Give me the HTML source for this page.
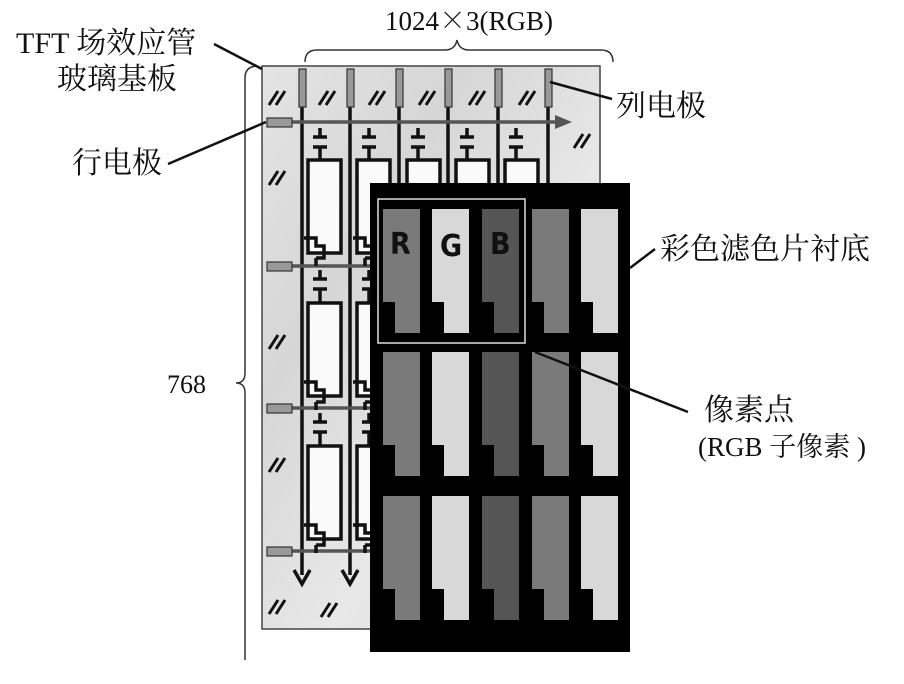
<!DOCTYPE html>
<html><head><meta charset="utf-8"><style>
body{margin:0;background:#fff;width:904px;height:679px;overflow:hidden}
text{font-family:"Liberation Serif","Noto Serif CJK SC","Noto Sans CJK SC",serif;fill:#111}
</style></head><body>
<svg width="904" height="679" viewBox="0 0 904 679" xmlns="http://www.w3.org/2000/svg">
<defs>
<linearGradient id="gl" x1="0" y1="0" x2="1" y2="1">
<stop offset="0" stop-color="#e4e4e4"/><stop offset="0.3" stop-color="#d6d6d6"/><stop offset="0.6" stop-color="#e8e8e8"/><stop offset="1" stop-color="#d2d2d2"/>
</linearGradient>
</defs>
<rect x="262" y="66" width="338" height="563" fill="url(#gl)" stroke="#444" stroke-width="1.5"/>
<g stroke="#111" stroke-width="3">
<path d="M269 105l9-14M276 105l9-14 M319 105l9-14M326 105l9-14 M369 105l9-14M376 105l9-14 M419 105l9-14M426 105l9-14 M469 105l9-14M476 105l9-14 M519 105l9-14M526 105l9-14 M574 148l9-14M581 148l9-14 M269 185l9-14M276 185l9-14 M269 349l9-14M276 349l9-14 M269 472l9-14M276 472l9-14 M269 614l9-14M276 614l9-14 M321 617l9-14M328 617l9-14"/>
</g>
<g stroke="#111" stroke-width="3.5">
<line x1="302" y1="107" x2="302" y2="575"/><line x1="350" y1="107" x2="350" y2="575"/>
<line x1="399" y1="107" x2="399" y2="183"/><line x1="448" y1="107" x2="448" y2="183"/>
<line x1="498" y1="107" x2="498" y2="183"/><line x1="548" y1="107" x2="548" y2="183"/>
</g>
<path d="M294 570l8 14 8-14M342 570l8 14 8-14" fill="none" stroke="#111" stroke-width="3.5"/>
<g fill="#999" stroke="#333" stroke-width="1.2">
<rect x="299" y="69" width="7" height="38"/><rect x="347" y="69" width="7" height="38"/><rect x="396" y="69" width="7" height="38"/><rect x="445" y="69" width="7" height="38"/><rect x="495" y="69" width="7" height="38"/><rect x="545" y="69" width="7" height="38"/>
</g>
<g stroke="#555" stroke-width="3.5">
<line x1="292" y1="122" x2="562" y2="122"/><line x1="292" y1="266" x2="372" y2="266"/><line x1="292" y1="408" x2="372" y2="408"/><line x1="292" y1="551" x2="372" y2="551"/>
</g>
<path d="M555 115l17 7-17 7z" fill="#555"/>
<g fill="#999" stroke="#333" stroke-width="1.2">
<rect x="267" y="118" width="25" height="9"/><rect x="267" y="262" width="25" height="9"/><rect x="267" y="404" width="25" height="9"/><rect x="267" y="547" width="25" height="9"/>
</g>
<g fill="#fafafa" stroke="#111" stroke-width="3.5">
<rect x="308" y="160" width="33" height="93"/><rect x="357" y="160" width="33" height="93"/>
<rect x="407" y="160" width="33" height="25"/><rect x="456" y="160" width="33" height="25"/><rect x="505" y="160" width="33" height="25"/>
<rect x="308" y="303" width="33" height="93"/><rect x="357" y="303" width="33" height="93"/>
<rect x="308" y="446" width="33" height="93"/><rect x="357" y="446" width="33" height="93"/>
</g>
<g stroke="#111" stroke-width="3.5" fill="none">
<path d="M320 128v9M313 137h14M313 147h14M320 147v13 M369 128v9M362 137h14M362 147h14M369 147v13 M418 128v9M411 137h14M411 147h14M418 147v13 M467 128v9M460 137h14M460 147h14M467 147v13 M516 128v9M509 137h14M509 147h14M516 147v13"/>
<path d="M304 238h12v8h8v12h-8M316 258v8 M353 238h12v8h8v12h-8M365 258v8"/>
<path d="M320 270v9M313 279h14M313 289h14M320 289v14 M369 270v9M362 279h14M362 289h14M369 289v14"/>
<path d="M304 382h12v8h8v12h-8M316 402v8 M353 382h12v8h8v12h-8M365 402v8"/>
<path d="M320 413v9M313 422h14M313 432h14M320 432v14 M369 413v9M362 422h14M362 432h14M369 432v14"/>
<path d="M304 525h12v8h8v12h-8M316 545v8 M353 525h12v8h8v12h-8M365 545v8"/>
</g>
<rect x="370" y="183" width="260" height="469" fill="#000"/>
<g>
<g id="r1">
<path d="M383 209h37v124h-25v-31h-12z" fill="#7a7a7a"/>
<path d="M432 209h37v124h-25v-31h-12z" fill="#d8d8d8"/>
<path d="M482 209h37v124h-25v-31h-12z" fill="#555"/>
<path d="M532 209h37v124h-25v-31h-12z" fill="#7a7a7a"/>
<path d="M581 209h37v124h-25v-31h-12z" fill="#d8d8d8"/>
</g>
<use href="#r1" y="143"/>
<use href="#r1" y="287"/>
</g>
<rect x="378" y="199" width="147" height="144" fill="none" stroke="#ddd" stroke-width="1.5"/>
<g font-size="30">
<text x="390" y="254" style="font-family:'DejaVu Sans Condensed','Liberation Sans',sans-serif;font-weight:bold">R</text>
<text x="440" y="256" style="font-family:'DejaVu Sans Condensed','Liberation Sans',sans-serif;font-weight:bold">G</text>
<text x="490" y="254" style="font-family:'DejaVu Sans Condensed','Liberation Sans',sans-serif;font-weight:bold">B</text>
</g>
<path d="M305 62q0-12 12-12h128q10 0 12-10q2 10 12 10h132q12 0 12 12" fill="none" stroke="#333" stroke-width="1.5"/>
<path d="M258 66q-13 0-13 12v295q0 10-9 10q9 0 9 10v267" fill="none" stroke="#333" stroke-width="1.5"/>
<g stroke="#111" stroke-width="2.5">
<line x1="214" y1="44" x2="262" y2="69"/>
<line x1="168" y1="164" x2="266" y2="122"/>
<line x1="550" y1="82" x2="612" y2="99"/>
<line x1="655" y1="249" x2="630" y2="268"/>
<line x1="535" y1="352" x2="688" y2="412"/>
</g>
<text x="16" y="53" font-size="30">TFT 场效应管</text>
<text x="57" y="89" font-size="30">玻璃基板</text>
<text x="385" y="30" font-size="27">1024<tspan style="font-family:'Noto Serif CJK SC','Noto Sans CJK SC',serif">×</tspan>3(RGB)</text>
<text x="616" y="116" font-size="30">列电极</text>
<text x="72" y="173" font-size="30">行电极</text>
<text x="660" y="259" font-size="30">彩色滤色片衬底</text>
<text x="167" y="393" font-size="26">768</text>
<text x="704" y="420" font-size="30">像素点</text>
<text x="698" y="456" font-size="27">(RGB 子像素 )</text>
</svg>
</body></html>
